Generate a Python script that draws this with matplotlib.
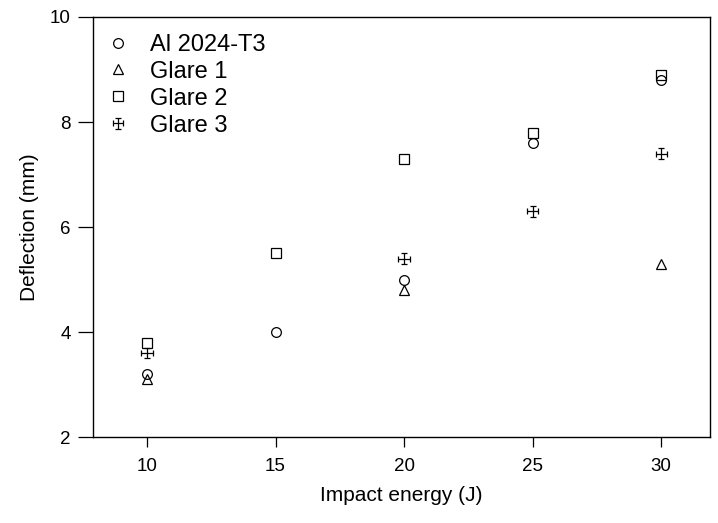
import matplotlib
matplotlib.use("Agg")
import matplotlib.pyplot as plt
from matplotlib.legend_handler import HandlerErrorbar
import numpy as np

plt.rcParams['font.family'] = ['Liberation Sans', 'DejaVu Sans']

# Deflection vs impact energy
energy = [10, 15, 20, 25, 30]
al_2024 = [3.2, 4.0, 5.0, 7.6, 8.8]
glare_1 = [3.1, np.nan, 4.8, np.nan, 5.3]
glare_2 = [3.8, 5.5, 7.3, 7.8, 8.9]
glare_3 = [3.6, np.nan, 5.4, 6.3, 7.4]

x_ticks = [10, 15, 20, 25, 30]
y_ticks = [2, 4, 6, 8, 10]

fig = plt.figure(figsize=(7.18, 5.23), dpi=100)
ax = fig.add_axes([0.1295, 0.1644, 0.8595, 0.8031])

ms = 7
ax.plot(energy, al_2024, 'o', mfc='none', mec='black', mew=0.9, ms=ms, label='Al 2024-T3')
ax.plot(energy, glare_1, '^', mfc='none', mec='black', mew=0.9, ms=ms, label='Glare 1')
ax.plot(energy, glare_2, 's', mfc='none', mec='black', mew=0.9, ms=ms - 0.5, label='Glare 2')
ax.errorbar(energy, glare_3, xerr=0.22, yerr=0.1, fmt='none', ecolor='black',
            elinewidth=0.9, capsize=2, capthick=0.9, label='Glare 3')

ax.set_xlim(7.9, 31.9)
ax.set_ylim(2, 10)
ax.set_xticks(x_ticks)
ax.set_yticks(y_ticks)
ax.tick_params(axis='both', labelsize=13.5, direction='out', width=0.9)
ax.tick_params(axis='y', length=11, pad=5)
ax.tick_params(axis='x', length=7, pad=8)
for s in ax.spines.values():
    s.set_linewidth(1.0)

ax.set_xlabel('Impact energy (J)', fontsize=15, labelpad=8)
ax.set_ylabel('Deflection (mm)', fontsize=15, labelpad=8)

ax.legend(loc='upper left', frameon=False, fontsize=17, handlelength=1.2,
          handletextpad=0.76, labelspacing=0.21, borderaxespad=0, borderpad=0,
          bbox_to_anchor=(0.018, 0.96),
          handler_map={type(ax.containers[0]): HandlerErrorbar(xerr_size=0.22, yerr_size=0.22)})

fig.savefig('out.png', dpi=100)
